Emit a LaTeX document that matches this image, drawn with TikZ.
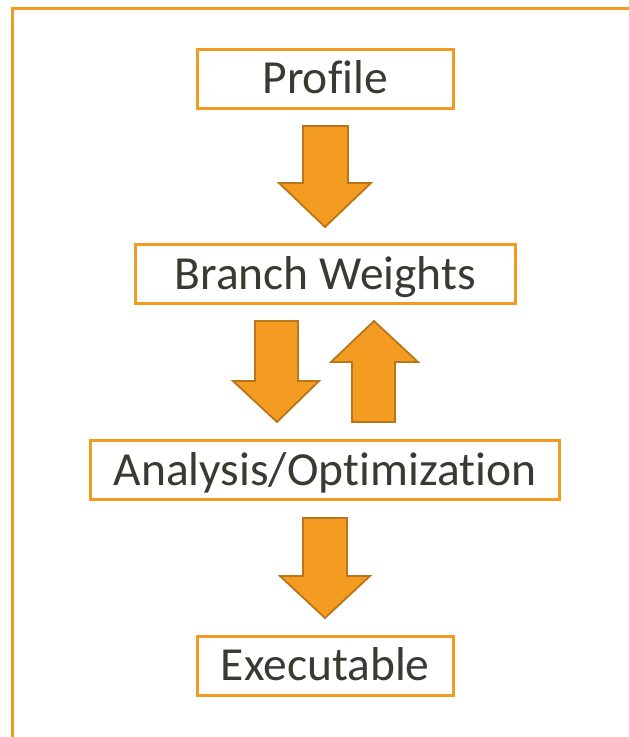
\documentclass[tikz,border=0pt]{standalone}
\usepackage{fontspec}
\setmainfont[Ligatures=NoCommon]{Carlito}
\definecolor{frameorange}{HTML}{F39A22}
\definecolor{arrowfill}{HTML}{F39C21}
\definecolor{arrowline}{HTML}{B97517}
\definecolor{txt}{HTML}{3A3A33}
\begin{document}
\begin{tikzpicture}[x=1pt,y=-1pt,
  stagebox/.style={draw=frameorange, line width=3pt, fill=white, inner sep=0pt,
    minimum height=59pt, text=txt,
    font=\fontsize{47.5}{50}\selectfont, text height=30.4pt, text depth=0pt},
  blockarrow/.style={fill=arrowfill, draw=arrowline, line width=1.8pt, line join=miter}]
\useasboundingbox (0,0) rectangle (629,737);
\fill[white] (0,0) rectangle (629,737);
\draw[frameorange, line width=2.6pt] (12.5,737) -- (12.5,8.5) -- (629,8.5);

\node[stagebox, minimum width=256.5pt] (profile) at (325.25,78.5) {Profile};
\node[stagebox, minimum width=379.5pt] (branch) at (325.25,274) {Branch Weights};
\node[stagebox, minimum width=469pt] (analysis) at (325,470) {Analysis/Optimization};
\node[stagebox, minimum width=256.5pt] (exec) at (325.25,665.5) {Executable};

% Profile -> Branch Weights
\draw[blockarrow] (303,126) -- (348,126) -- (348,183) -- (371,183) -- (325,227)
  -- (279,183) -- (303,183) -- cycle;
% Branch Weights -> Analysis
\draw[blockarrow] (255,321) -- (298,321) -- (298,381) -- (319,381) -- (277,422)
  -- (233,381) -- (255,381) -- cycle;
% Analysis -> Branch Weights
\draw[blockarrow] (352,422) -- (395,422) -- (395,362) -- (418,362) -- (374,321)
  -- (331,362) -- (352,362) -- cycle;
% Analysis -> Executable
\draw[blockarrow] (303,518) -- (347,518) -- (347,576) -- (370,576) -- (325,618)
  -- (280,576) -- (303,576) -- cycle;
\end{tikzpicture}
\end{document}
